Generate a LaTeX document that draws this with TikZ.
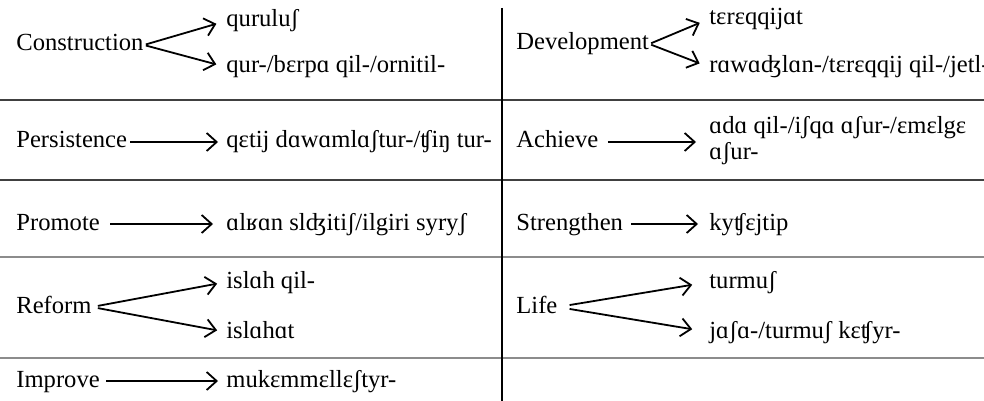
\documentclass[tikz,border=0pt]{standalone}
\usepackage{fontspec}
\setmainfont{Liberation Serif}
\usetikzlibrary{arrows.meta}
\tikzset{
  txt/.style={anchor=base west, inner sep=0pt, text height=8.5pt, text depth=2.5pt,
              font=\fontsize{12.3pt}{13pt}\selectfont},
  arr/.style={-{Straight Barb[length=5pt,width=9pt]}, line width=0.9pt},
  darkrule/.style={draw=black!75, line width=0.6pt},
  lightrule/.style={draw=black!45, line width=0.7pt},
  vrule/.style={draw=black, line width=1.1pt}
}
\begin{document}
\begin{tikzpicture}[x=0.5pt,y=-0.5pt]
\useasboundingbox (0,0) rectangle (984,401);
% rules
\draw[darkrule] (0,100) -- (984,100);
\draw[darkrule] (0,180) -- (984,180);
\draw[lightrule] (0,257) -- (984,257);
\draw[lightrule] (0,358) -- (984,358);
\draw[vrule] (502,8) -- (502,401);

% Row 1 left
\node[txt] (con) at (16,51) {Construction};
\node[txt] (con1) at (226,27) {quruluʃ};
\node[txt] (con2) at (226,73) {qur-/bɛrpɑ qil-/ornitil-};
\draw[arr, shorten <=1pt, shorten >=5pt] (con.east) -- (con1.west);
\draw[arr, shorten <=1pt, shorten >=5pt] (con.east) -- (con2.west);
% Row 1 right
\node[txt] (dev) at (516,50) {Development};
\node[txt] (dev1) at (709,25) {tɛrɛqqijɑt};
\node[txt] (dev2) at (709,73) {rɑwɑʤlɑn-/tɛrɛqqij qil-/jetl-};
\draw[arr, shorten <=1pt, shorten >=5pt] (dev.east) -- (dev1.west);
\draw[arr, shorten <=1pt, shorten >=5pt] (dev.east) -- (dev2.west);

% Row 2 left
\node[txt] (per) at (16,148) {Persistence};
\node[txt] (per1) at (226,148) {qɛtij dɑwɑmlɑʃtur-/ʧiŋ tur-};
\draw[arr, shorten <=1.5pt, shorten >=4pt] (per.east) -- (per1.west);
% Row 2 right
\node[txt] (ach) at (516,148) {Achieve};
\node[anchor=west, inner sep=0pt, align=left, font=\fontsize{12.3pt}{13pt}\selectfont]
  (ach1) at (709,141) {ɑdɑ qil-/iʃqɑ ɑʃur-/ɛmɛlgɛ\\ɑʃur-};
\draw[arr, shorten <=4.5pt, shorten >=6.5pt] (ach.east) -- (ach.east -| ach1.west);

% Row 3 left
\node[txt] (pro) at (16,230) {Promote};
\node[txt] (pro1) at (226,230) {ɑlʁɑn slʤitiʃ/ilgiri syryʃ};
\draw[arr, shorten <=5pt, shorten >=6.5pt] (pro.east) -- (pro1.west);
% Row 3 right
\node[txt] (str) at (516,230) {Strengthen};
\node[txt] (str1) at (709,230) {kyʧɛjtip};
\draw[arr, shorten <=4pt, shorten >=5.5pt] (str.east) -- (str1.west);

% Row 4 left
\node[txt] (ref) at (16,313) {Reform};
\node[txt] (ref1) at (226,288) {islɑh qil-};
\node[txt] (ref2) at (226,338) {islɑhɑt};
\draw[arr, shorten <=3pt, shorten >=4.5pt] (ref.east) -- (ref1.west);
\draw[arr, shorten <=3pt, shorten >=4.5pt] (ref.east) -- (ref2.west);
% Row 4 right
\node[txt] (lif) at (516,313) {Life};
\node[txt] (lif1) at (709,288) {turmuʃ};
\node[txt] (lif2) at (709,338) {jɑʃɑ-/turmuʃ kɛʧyr-};
\draw[arr, shorten <=6pt, shorten >=8.5pt] (lif.east) -- (lif1.west);
\draw[arr, shorten <=6pt, shorten >=8.5pt] (lif.east) -- (lif2.west);

% Row 5 left
\node[txt] (imp) at (16,387) {Improve};
\node[txt] (imp1) at (226,387) {mukɛmmɛllɛʃtyr-};
\draw[arr, shorten <=3pt, shorten >=4pt] (imp.east) -- (imp1.west);
\end{tikzpicture}
\end{document}
